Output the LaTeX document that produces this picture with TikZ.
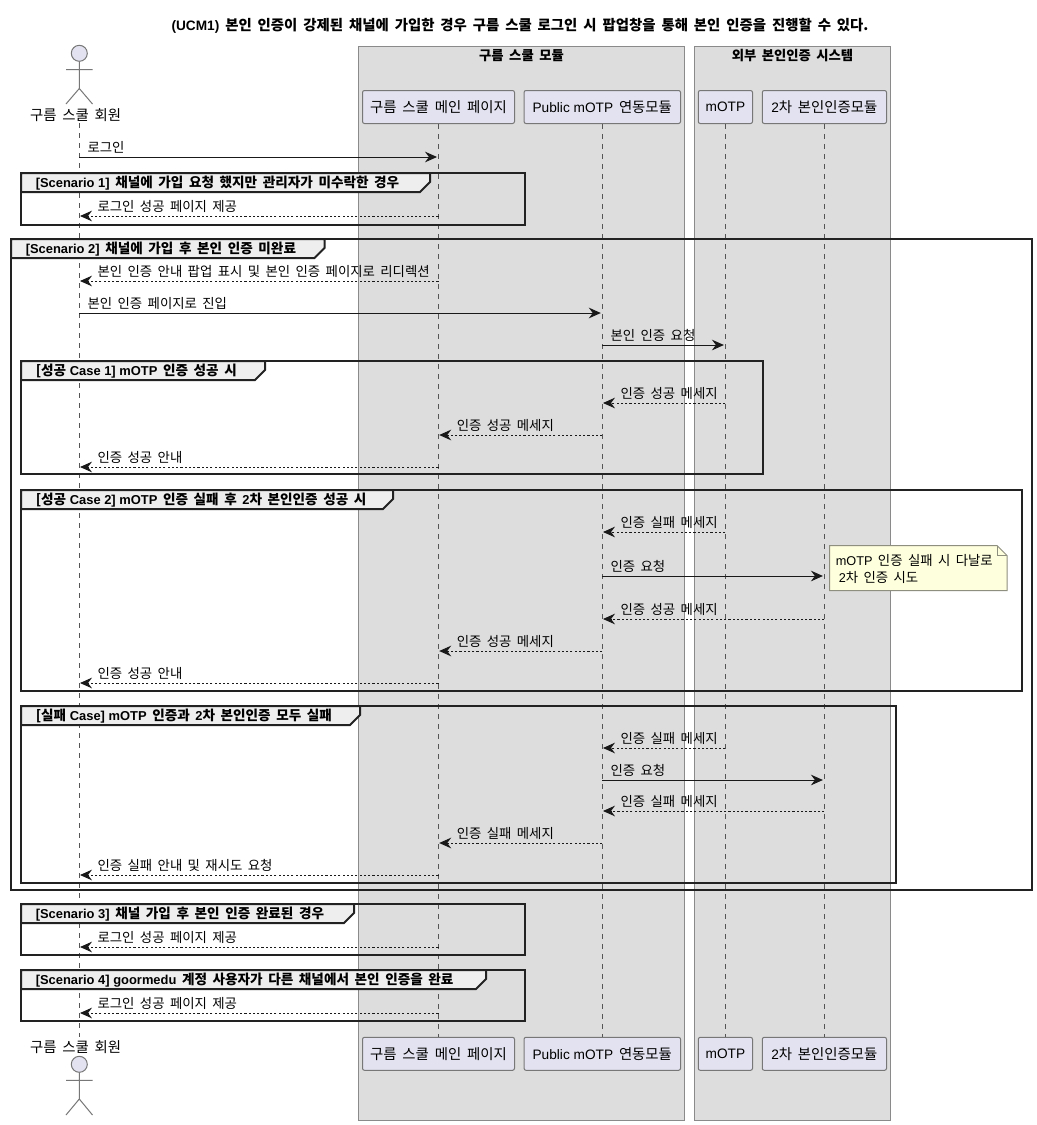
\documentclass[tikz,border=0pt]{standalone}
\usepackage{fontspec}
\usetikzlibrary{arrows.meta,calc}
\setmainfont{Noto Sans CJK KR}[WordSpace=1.8]
\newfontfamily\latf{Liberation Sans}[Scale=0.95]
\newcommand{\lat}[1]{{\latf #1}}
\definecolor{lifeC}{HTML}{555555}
\definecolor{boxF}{HTML}{E2E2F0}
\definecolor{boxD}{HTML}{777777}
\definecolor{grpF}{HTML}{DDDDDD}
\definecolor{grpD}{HTML}{8A8A8A}
\definecolor{frmD}{HTML}{222222}
\definecolor{hdrF}{HTML}{EEEEEE}
\definecolor{noteF}{HTML}{FEFFDD}
\definecolor{noteD}{HTML}{8F8F7F}
\newcommand{\fsmsg}{\fontsize{10.05pt}{12pt}\selectfont}
\newcommand{\fspart}{\fontsize{10.8pt}{12pt}\selectfont}
\newcommand{\fshead}{\fontsize{10.2pt}{12pt}\selectfont\bfseries}
\newcommand{\fsgrp}{\fontsize{10pt}{12pt}\selectfont\bfseries}
\tikzset{
  x=0.75pt,y=-0.75pt,
  pbox/.style={draw=boxD,fill=boxF,line width=0.75pt,rounded corners=1.5pt,minimum height=24.75pt,inner sep=0pt,font=\fspart},
  grp/.style={draw=grpD,fill=grpF,line width=0.75pt},
  lifeline/.style={draw=lifeC,line width=0.6pt,dash pattern=on 3.75pt off 3.75pt},
  figure/.style={draw=boxD,line width=0.75pt},
  headshape/.style={circle,draw=boxD,fill=boxF,line width=0.75pt,minimum size=12pt,inner sep=0pt},
  actlabel/.style={font=\fspart,inner sep=0pt},
  msgline/.style={draw=black!90,line width=0.75pt,-{Stealth[length=9pt,width=8pt,inset=3pt]}},
  msgdash/.style={msgline,dash pattern=on 1.6pt off 1.6pt},
  msglabel/.style={anchor=base west,inner sep=0pt,font=\fsmsg},
  frameline/.style={draw=frmD,line width=1.5pt},
  framehead/.style={draw=frmD,fill=hdrF,line width=1.5pt},
  headlabel/.style={anchor=mid west,inner sep=0pt,font=\fshead},
  grouplabel/.style={inner sep=0pt,font=\fsgrp},
  notebox/.style={draw=noteD,fill=noteF,line width=0.75pt},
  notelabel/.style={anchor=base west,inner sep=0pt,font=\fsmsg}
}
\newcounter{mc}
% from, to, y, text
\newcommand{\msgR}[4]{\stepcounter{mc}
  \draw[msgline] (#1 |- 0,#3) -- ($(#2 |- 0,#3)+(-1.5,0)$);
  \node[msglabel] (ml\themc) at ($(#1 |- 0,#3)+(8,-4.5)$) {#4};}
\newcommand{\msgL}[4]{\stepcounter{mc}
  \draw[msgdash] (#1 |- 0,#3) -- ($(#2 |- 0,#3)+(0.7,0)$);
  \node[msglabel] (ml\themc) at ($(#2 |- 0,#3)+(18,-4.5)$) {#4};}
% x0,y0,x1,y1,xr,yb,text
\newcommand{\frag}[7]{\stepcounter{mc}
  \draw[frameline] (#1,#2) rectangle (#3,#4);
  \draw[framehead] (#1,#2) -- (#5,#2) -- (#5,#6-10) -- (#5-10,#6) -- (#1,#6) -- cycle;
  \node[headlabel] (fl\themc) at (#1+14.5,#2+10.8) {#7};}
\begin{document}
\begin{tikzpicture}
\useasboundingbox (0,0) rectangle (1037,1125);
\fill[white] (0,0) rectangle (1037,1125);
\node[grouplabel,font=\fontsize{10.8pt}{12pt}\selectfont\bfseries] (title) at (520,26) {\lat{(UCM1)} 본인 인증이 강제된 채널에 가입한 경우 구름 스쿨 로그인 시 팝업창을 통해 본인 인증을 진행할 수 있다.};
% groups
\draw[grp] (358.5,46.5) rectangle (684.5,1120);
\draw[grp] (694.5,46.5) rectangle (890.5,1120);
\node[grouplabel] (g1) at (521.5,55.5) {구름 스쿨 모듈};
\node[grouplabel] (g2) at (792.5,55.5) {외부 본인인증 시스템};
% participants
\node[pbox,minimum width=114pt] (main) at (438.5,107) {구름 스쿨 메인 페이지};
\node[pbox,minimum width=117.4pt] (pub) at (602.3,107) {\lat{Public mOTP} 연동모듈};
\node[pbox,minimum width=40.7pt] (motp) at (725.4,107) {\lat{mOTP}};
\node[pbox,minimum width=93.2pt] (sec) at (824.4,107) {\lat{2}차 본인인증모듈};
\node[pbox,minimum width=114pt] (mainb) at (438.5,1053.8) {구름 스쿨 메인 페이지};
\node[pbox,minimum width=117.4pt] (pubb) at (602.3,1053.8) {\lat{Public mOTP} 연동모듈};
\node[pbox,minimum width=40.7pt] (motpb) at (725.4,1053.8) {\lat{mOTP}};
\node[pbox,minimum width=93.2pt] (secb) at (824.4,1053.8) {\lat{2}차 본인인증모듈};
% actors
\node[actlabel] (act) at (75.7,115) {구름 스쿨 회원};
\node[actlabel] (actb) at (75.7,1047) {구름 스쿨 회원};
\coordinate (usr) at (79.3,123);
\coordinate (usrb) at (79.3,1037);
\node[headshape] (hd) at (79.3,53.3) {};
\draw[figure] (hd.south) -- (79.3,88.5) (66,69.5) -- (92.5,69.5) (66,104) -- (79.3,88.5) -- (92.5,104);
\node[headshape] (hdb) at (79.3,1064.3) {};
\draw[figure] (hdb.south) -- (79.3,1099) (66,1080.3) -- (92.5,1080.3) (66,1115) -- (79.3,1099) -- (92.5,1115);
% lifelines
\draw[lifeline] (usr) -- (usrb);
\draw[lifeline] (main) -- (mainb);
\draw[lifeline] (pub) -- (pubb);
\draw[lifeline] (motp) -- (motpb);
\draw[lifeline] (sec) -- (secb);
% frames
\frag{21}{173}{525}{225}{430}{192}{\lat{[Scenario 1]} 채널에 가입 요청 했지만 관리자가 미수락한 경우}
\frag{11}{239}{1032}{890}{324.5}{258}{\lat{[Scenario 2]} 채널에 가입 후 본인 인증 미완료}
\frag{21}{361}{763}{474}{265}{380}{[성공\lat{ Case 1] mOTP} 인증 성공 시}
\frag{21}{490}{1022}{691}{393}{509}{[성공\lat{ Case 2] mOTP} 인증 실패 후 \lat{2}차 본인인증 성공 시}
\frag{21}{706}{896}{883}{360}{725}{[실패\lat{ Case] mOTP} 인증과 \lat{2}차 본인인증 모두 실패}
\frag{21}{904}{525}{955}{354}{923}{\lat{[Scenario 3]} 채널 가입 후 본인 인증 완료된 경우}
\frag{21}{970}{525}{1021}{486}{989}{\lat{[Scenario 4] goormedu} 계정 사용자가 다른 채널에서 본인 인증을 완료}
% messages
\msgR{usr}{main}{157}{로그인}
\msgL{main}{usr}{216}{로그인 성공 페이지 제공}
\msgL{main}{usr}{281}{본인 인증 안내 팝업 표시 및 본인 인증 페이지로 리디렉션}
\msgR{usr}{pub}{313}{본인 인증 페이지로 진입}
\msgR{pub}{motp}{345}{본인 인증 요청}
\msgL{motp}{pub}{403}{인증 성공 메세지}
\msgL{pub}{main}{435}{인증 성공 메세지}
\msgL{main}{usr}{467}{인증 성공 안내}
\msgL{motp}{pub}{532}{인증 실패 메세지}
\msgR{pub}{sec}{576}{인증 요청}
\msgL{sec}{pub}{619}{인증 성공 메세지}
\msgL{pub}{main}{651}{인증 성공 메세지}
\msgL{main}{usr}{683}{인증 성공 안내}
\msgL{motp}{pub}{748}{인증 실패 메세지}
\msgR{pub}{sec}{780}{인증 요청}
\msgL{sec}{pub}{811}{인증 실패 메세지}
\msgL{pub}{main}{843}{인증 실패 메세지}
\msgL{main}{usr}{875}{인증 실패 안내 및 재시도 요청}
\msgL{main}{usr}{947}{로그인 성공 페이지 제공}
\msgL{main}{usr}{1013}{로그인 성공 페이지 제공}
% note
\draw[notebox] (829.5,545.5) -- (997,545.5) -- (1007,555.5) -- (1007,590.5) -- (829.5,590.5) -- cycle;
\draw[notebox,fill=none] (997,545.5) -- (997,555.5) -- (1007,555.5);
\node[notelabel] (n1) at (835.5,565) {\lat{mOTP} 인증 실패 시 다날로};
\node[notelabel] (n2) at (838.5,582) {\lat{2}차 인증 시도};
\end{tikzpicture}
\end{document}
